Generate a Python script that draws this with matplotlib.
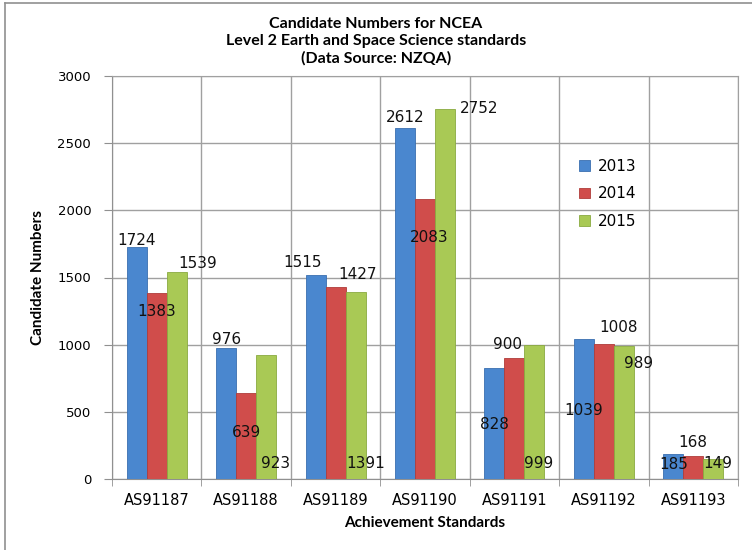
import numpy as np
import matplotlib
matplotlib.use("Agg")
import matplotlib.pyplot as plt
from matplotlib.lines import Line2D

standards = ["AS91187", "AS91188", "AS91189", "AS91190", "AS91191", "AS91192", "AS91193"]
years = ["2013", "2014", "2015"]
n2013 = [1724, 976, 1515, 2612, 828, 1039, 185]
n2014 = [1383, 639, 1427, 2083, 900, 1008, 168]
n2015 = [1539, 923, 1391, 2752, 999, 989, 149]

# label offsets in pixels (dx, dy) from the top of each bar, as placed in the original
offs = [
    [(0, 7), (0, 8), (-13, 13), (0, 11), (0, -57), (0, -71), (0, -10)],
    [(0, -18), (0, -39), (22, 13), (4, -38), (-7, 14), (15, 16), (0, 14)],
    [(21, 9), (9, -108), (10, -171), (34, 1), (4, -119), (15, -17), (4, -5)],
]
colors = ["#4a87cf", "#d04d4b", "#a9c955"]
edges = ["#3a6fb0", "#b03c3a", "#8aaa40"]

fig = plt.figure(figsize=(7.52, 5.5), dpi=100)
ax = fig.add_axes([112 / 752, 1 - 479 / 550, (738 - 112) / 752, (479 - 76) / 550])

x = np.arange(len(standards))
w = 0.224
series = [n2013, n2014, n2015]
for i, vals in enumerate(series):
    pos = x + (i - 1) * w
    ax.bar(pos, vals, w, color=colors[i], edgecolor=edges[i], linewidth=0.6,
           label=years[i], zorder=3)
    for j, v in enumerate(vals):
        ax.annotate(str(v), (pos[j], v), xytext=offs[i][j], textcoords="offset pixels",
                    ha="center", va="center", fontsize=11, color="#111111", zorder=5)

ax.set_xlim(-0.5, len(standards) - 0.5)
ax.set_ylim(0, 3000)
ax.set_yticks(np.arange(0, 3001, 500))
ax.set_xticks(x)
ax.set_xticklabels(standards, fontsize=10.5)
ax.set_xticks(np.arange(-0.5, len(standards), 1), minor=True)
ax.tick_params(axis="x", which="major", length=0, pad=10)
ax.tick_params(axis="x", which="minor", length=5, color="#909090")
ax.tick_params(axis="y", length=6, color="#909090", labelsize=9.5, pad=9)
ax.grid(axis="y", color="#a0a0a0", linewidth=1, zorder=0)
ax.grid(axis="x", which="minor", color="#a0a0a0", linewidth=1, zorder=0)
for s in ["top", "right"]:
    ax.spines[s].set_color("#a0a0a0")
for s in ["left", "bottom"]:
    ax.spines[s].set_color("#909090")

ax.set_xlabel("Achievement Standards", fontsize=11, fontweight="bold", family="Lato", labelpad=6)
ax.set_ylabel("Candidate Numbers", fontsize=11, fontweight="bold", family="Lato", labelpad=9)

fig.text(0.5, 1 - 41 / 550, "Candidate Numbers for NCEA\nLevel 2 Earth and Space Science standards\n(Data Source: NZQA)",
         ha="center", va="center", fontsize=11.5, fontweight="bold", family="Lato", linespacing=1.28)

ax.legend(loc="upper left", bbox_to_anchor=((573 - 112) / 626, (478 - 152) / 403), frameon=False,
          fontsize=11, handlelength=0.7, handleheight=0.7, handletextpad=0.5, labelspacing=0.8,
          borderaxespad=0)

fig.add_artist(Line2D([5 / 752, 5 / 752], [0, 1 - 3 / 550], color="#909090", linewidth=1.2))
fig.add_artist(Line2D([5 / 752, 1], [1 - 3 / 550, 1 - 3 / 550], color="#909090", linewidth=1.2))

fig.savefig("out.png", dpi=100)
